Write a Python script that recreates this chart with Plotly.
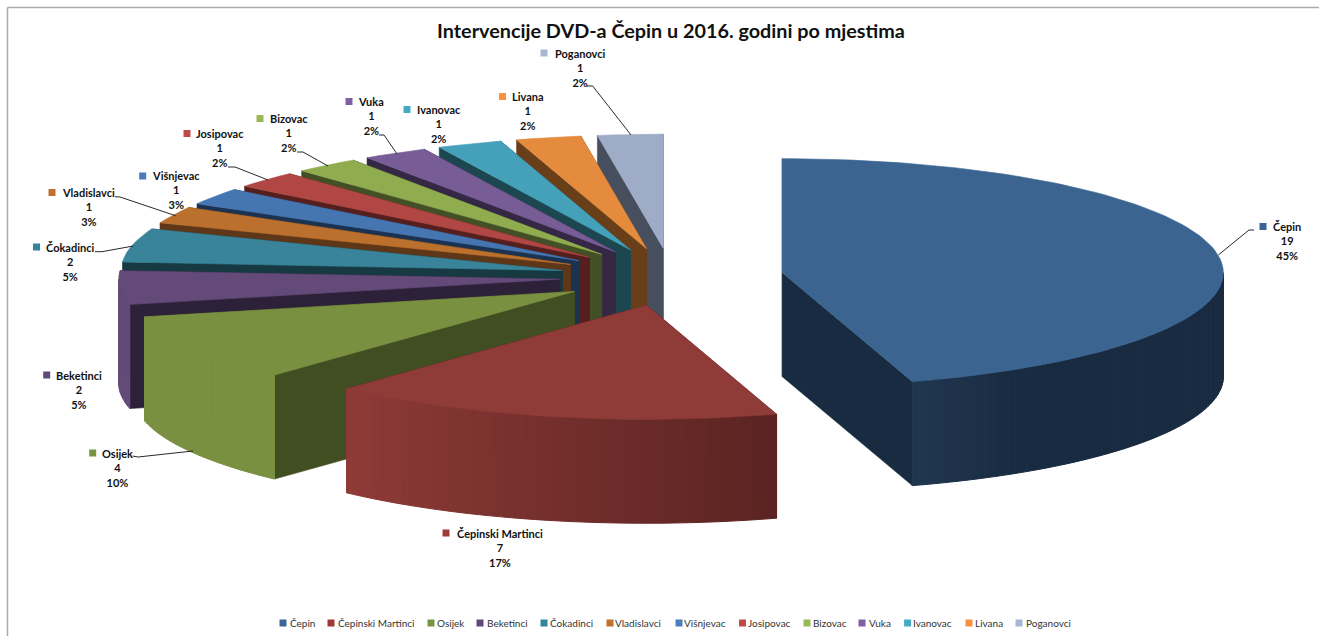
import math
import plotly.graph_objects as go

# ---------- data ----------
categories = ["Čepin", "Čepinski Martinci", "Osijek", "Beketinci", "Čokadinci", "Vladislavci",
              "Višnjevac", "Josipovac", "Bizovac", "Vuka", "Ivanovac", "Livana", "Poganovci"]
values = [19, 7, 4, 2, 2, 1, 1, 1, 1, 1, 1, 1, 1]
percent_labels = [45, 17, 10, 5, 5, 3, 3, 2, 2, 2, 2, 2, 2]

# ---------- styles ----------
top_colors = ["#3B6490", "#8F3B38", "#7A9041", "#634A78", "#39849A", "#BB702E", "#4676B1",
              "#B04744", "#8FAD4F", "#775C96", "#45A1B9", "#E58B3D", "#9FACC8"]
dark_colors = ["#192B40", "#4D1E1C", "#404E21", "#2D2139", "#173941", "#5E3618", "#1B3351",
               "#551F1D", "#435026", "#352845", "#1C4650", "#693F1A", "#474F5E"]
key_colors = ["#3B6597", "#9E3B38", "#779440", "#60497A", "#31859C", "#C0702E", "#4A7EBB",
              "#BE4B48", "#98B954", "#7D60A0", "#46AAC4", "#F69240", "#A7B6D4"]

# ---------- pie projection (pixels of the page) ----------
CX, CY = 671.5, 277.0
RX, RY = 441.0, 114.0
DEPTH = 104.0
EXPLODE = 0.2541
FONT = "Lato"

# data label layout: centre x of text, y of first line, marker x
label_cx = [1287, 499.5, 117, 78.6, 70, 88, 175.5, 220, 289, 371, 439, 527.5, 579.5]
label_y = [227.5, 534.5, 454.5, 376.5, 248.5, 193.5, 176.5, 135, 119.5, 103, 110.5, 97.5, 54.5]
label_my = [226.5, 533, 453, 375, 247, 192.5, 176, 133.5, 118.5, 101.5, 109.5, 96.5, 53]
label_mx = [1263, 446, 92.7, 46.7, 36.5, 52, 142.7, 187, 260, 349, 407, 502.5, 544]

leaders = [
    [(1254, 230), (1249, 230), (1218.3, 255)],
    [(132.7, 456), (138, 457), (193, 451)],
    [(95, 251.7), (102, 251.7), (133.3, 246)],
    [(115, 196.7), (120, 197), (175.6, 215.7)],
    [(228, 167), (235, 167), (268, 180)],
    [(297, 152), (303, 152), (328, 166)],
    [(379, 135), (384, 135), (397, 154)],
    [(586.7, 86), (592.7, 86), (631, 135)],
]

legend_swatch_x = [283, 331, 431, 480, 544, 610, 679, 742.5, 807, 862, 907.6, 969, 1019]
legend_text_x = [289, 336.5, 435.7, 485.5, 549, 614, 683, 747, 812, 868, 912, 974, 1024.5]
LEGEND_Y = 623


def hex_rgb(c):
    return tuple(int(c[i:i + 2], 16) for i in (1, 3, 5))


def mix(a, b, t):
    ra, rb = hex_rgb(a), hex_rgb(b)
    return "rgb(%d,%d,%d)" % tuple(round(x + (y - x) * t) for x, y in zip(ra, rb))


def poly(fig, pts, color, width=0.6):
    xs = [p[0] for p in pts] + [pts[0][0]]
    ys = [p[1] for p in pts] + [pts[0][1]]
    fig.add_trace(go.Scatter(x=xs, y=ys, mode="lines", fill="toself", fillcolor=color,
                             line=dict(color=color, width=width), hoverinfo="skip", showlegend=False))


fig = go.Figure()

total = sum(values)
slices = []
cum = 0.0
for i, v in enumerate(values):
    a0 = 360.0 * cum / total
    cum += v
    a1 = 360.0 * cum / total
    mid = math.radians((a0 + a1) / 2)
    ax = CX + EXPLODE * RX * math.sin(mid)
    ay = CY - EXPLODE * RY * math.cos(mid)
    slices.append((ay, i, a0, a1, ax))


def rim(ax, ay, deg):
    r = math.radians(deg)
    return (ax + RX * math.sin(r), ay - RY * math.cos(r))


for ay, i, a0, a1, ax in sorted(slices):
    top, dark = top_colors[i], dark_colors[i]
    # radial walls
    for edge in (a1, a0):
        p = rim(ax, ay, edge)
        poly(fig, [(ax, ay), p, (p[0], p[1] + DEPTH), (ax, ay + DEPTH)], dark)
    # outer wall, in strips for the light falloff
    lo, hi = max(a0, 90.0), min(a1, 270.0)
    if hi > lo:
        n = max(1, int((hi - lo) / 1.5))
        for k in range(n):
            s0 = lo + (hi - lo) * k / n
            s1 = lo + (hi - lo) * (k + 1) / n
            t = min(1.0, max(0.0, (223.0 - (s0 + s1) / 2) / 75.0))
            p0, p1 = rim(ax, ay, s0), rim(ax, ay, s1)
            poly(fig, [p0, p1, (p1[0], p1[1] + DEPTH), (p0[0], p0[1] + DEPTH)], mix(top, dark, t), 1.0)
    # top face
    n = max(4, int((a1 - a0) / 1.5))
    arc = [rim(ax, ay, a0 + (a1 - a0) * k / n) for k in range(n + 1)]
    poly(fig, [(ax, ay)] + arc, top)

# leader lines
for pts in leaders:
    fig.add_trace(go.Scatter(x=[p[0] for p in pts], y=[p[1] for p in pts], mode="lines",
                             line=dict(color="#111111", width=0.9), hoverinfo="skip", showlegend=False))

# data label keys and text
fig.add_trace(go.Scatter(x=label_mx, y=label_my, mode="markers",
                         marker=dict(symbol="square", size=7, color=key_colors, line=dict(width=0)),
                         hoverinfo="skip", showlegend=False))
annotations = []
for i, name in enumerate(categories):
    annotations.append(dict(x=label_cx[i], y=label_y[i] - 8, xref="x", yref="y", showarrow=False,
                            xanchor="center", yanchor="top", align="center",
                            text=f"<b>{name}</b><br><b>{values[i]}</b><br><b>{percent_labels[i]}%</b>",
                            font=dict(family=FONT, size=11, color="#111111"), borderpad=0, borderwidth=0))

# legend row
fig.add_trace(go.Scatter(x=legend_swatch_x, y=[LEGEND_Y] * len(categories), mode="markers",
                         marker=dict(symbol="square", size=7, color=key_colors, line=dict(width=0)),
                         hoverinfo="skip", showlegend=False))
for i, name in enumerate(categories):
    annotations.append(dict(x=legend_text_x[i], y=LEGEND_Y, xref="x", yref="y", showarrow=False,
                            xanchor="left", yanchor="middle", text=name,
                            font=dict(family=FONT, size=10, color="#333333"), borderpad=0))

fig.update_layout(
    width=1319, height=636, margin=dict(l=0, r=0, t=0, b=0),
    paper_bgcolor="white", plot_bgcolor="white", showlegend=False,
    title=dict(text="<b>Intervencije DVD-a Čepin u 2016. godini po mjestima</b>",
               x=671 / 1319, xanchor="center", y=1 - 31 / 636, yanchor="middle",
               font=dict(family=FONT, size=19.8, color="#111111")),
    xaxis=dict(range=[0, 1319], visible=False, fixedrange=True),
    yaxis=dict(range=[636, 0], visible=False, fixedrange=True),
    annotations=annotations,
    shapes=[
        dict(type="line", xref="x", yref="y", x0=7.5, x1=7.5, y0=7.5, y1=636,
             line=dict(color="#ABABAB", width=1.5)),
        dict(type="line", xref="x", yref="y", x0=7.5, x1=1319, y0=7.5, y1=7.5,
             line=dict(color="#ABABAB", width=1.5)),
    ],
)

fig.write_html("out.html", config={"displayModeBar": False},
               post_script="document.body.style.margin='0';document.documentElement.style.overflow='hidden';")
